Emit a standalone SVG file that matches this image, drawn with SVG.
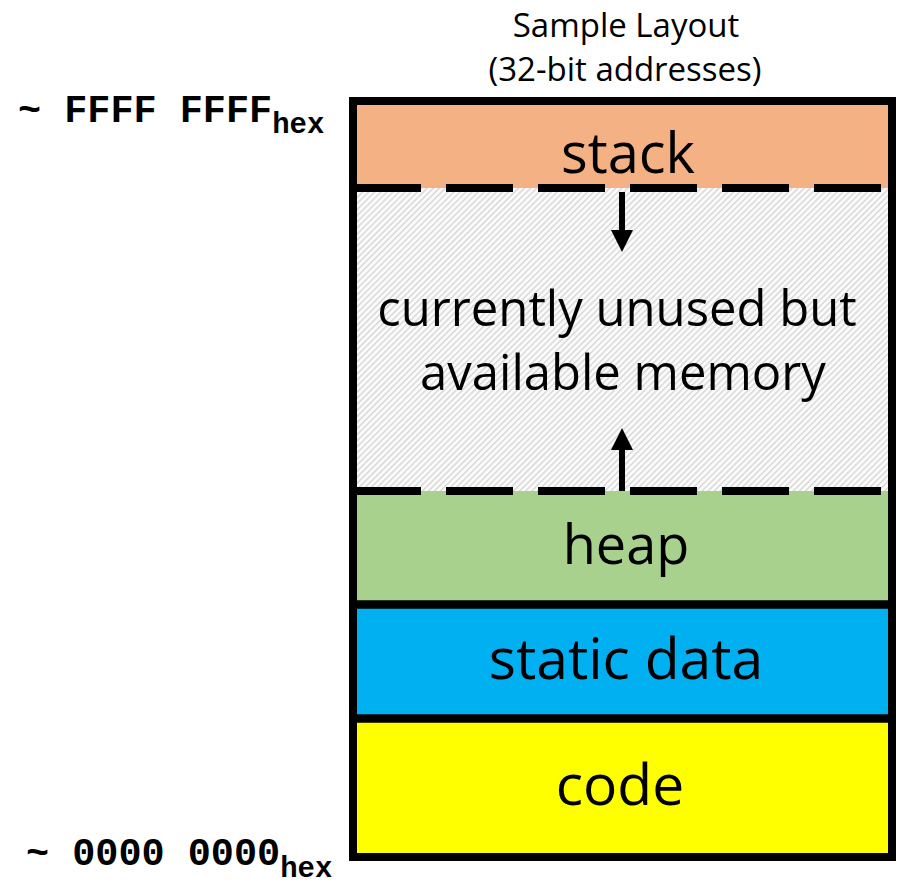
<svg xmlns="http://www.w3.org/2000/svg" width="899" height="887" viewBox="0 0 899 887">
  <style>
    .lbl { font-family: "Open Sans", "Liberation Sans", sans-serif; fill: #000; text-anchor: middle; }
    .addr { font-family: "Liberation Mono", "DejaVu Sans Mono", monospace; font-weight: bold; fill: #000; }
    .border { fill: none; stroke: #000; stroke-width: 8; }
    .dash { stroke: #000; stroke-width: 8; stroke-dasharray: 67 25; }
    .solid { stroke: #000; stroke-width: 8.5; }
    .arrow { stroke: #000; stroke-width: 6; fill: none; marker-end: url(#head); }
  </style>
  <defs>
    <pattern id="hatch" patternUnits="userSpaceOnUse" width="4.3" height="4.3" patternTransform="rotate(45)">
      <rect width="4.3" height="4.3" fill="#fbfbfb"/>
      <line x1="0.8" y1="0" x2="0.8" y2="4.3" stroke="#d6d6d6" stroke-width="1.4"/>
    </pattern>
    <marker id="head" markerUnits="userSpaceOnUse" markerWidth="22" markerHeight="22" viewBox="0 0 22 22" refX="0" refY="11" orient="auto">
      <path d="M0,0 L22,11 L0,22 z" fill="#000"/>
    </marker>
  </defs>

  <g id="title">
    <text class="lbl" x="626" y="37" font-size="33">Sample Layout</text>
    <text class="lbl" x="625" y="81" font-size="33">(32-bit addresses)</text>
  </g>

  <g id="addr-high">
    <text class="addr" x="18" y="122" font-size="38.5" xml:space="preserve">~ FFFF FFFF<tspan font-size="29" dy="11">hex</tspan></text>
  </g>
  <g id="addr-low">
    <text class="addr" x="26" y="865" font-size="38.5" xml:space="preserve">~ 0000 0000<tspan font-size="29" dy="12">hex</tspan></text>
  </g>

  <g id="stack">
    <rect x="353" y="101" width="539" height="87" fill="#F4B183"/>
    <text class="lbl" x="628" y="173" font-size="56">stack</text>
  </g>

  <g id="unused">
    <rect x="357" y="188" width="531" height="303" fill="url(#hatch)"/>
    <text class="lbl" x="617" y="326" font-size="49">currently unused but</text>
    <text class="lbl" x="623" y="390" font-size="49">available memory</text>
  </g>

  <g id="heap">
    <rect x="353" y="491" width="539" height="113" fill="#A9D18E"/>
    <text class="lbl" x="626" y="564" font-size="54">heap</text>
  </g>

  <g id="static-data">
    <rect x="353" y="604" width="539" height="114" fill="#00B0F0"/>
    <text class="lbl" x="626" y="679" font-size="57">static data</text>
  </g>

  <g id="code">
    <rect x="353" y="718" width="539" height="139" fill="#FFFF00"/>
    <text class="lbl" x="620" y="805" font-size="57">code</text>
  </g>

  <g id="dividers">
    <line class="dash" x1="354" y1="188" x2="888" y2="188"/>
    <line class="dash" x1="354" y1="491" x2="888" y2="491"/>
    <line class="solid" x1="353" y1="604.5" x2="892" y2="604.5"/>
    <line class="solid" x1="353" y1="718.5" x2="892" y2="718.5"/>
    <rect class="border" x="353" y="101" width="539" height="756"/>
  </g>

  <g id="connectors">
    <line class="arrow" x1="622" y1="192" x2="622" y2="230"/>
    <line class="arrow" x1="622" y1="491" x2="622" y2="450"/>
  </g>
</svg>
